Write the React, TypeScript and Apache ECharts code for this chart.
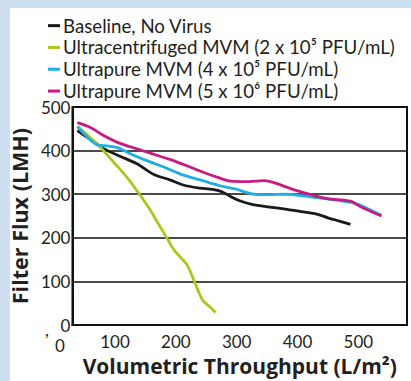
import React, { useEffect, useRef } from "react";
import * as echarts from "echarts";

const seriesNames = [
  "Baseline, No Virus",
  "Ultracentrifuged MVM (2 x 10⁵ PFU/mL)",
  "Ultrapure MVM (4 x 10⁵ PFU/mL)",
  "Ultrapure MVM (5 x 10⁶ PFU/mL)",
];
const seriesColors = ["#1a1a1a", "#a8c81c", "#1eaee3", "#c81a80"];

const baseline: [number, number][] = [
  [38, 446], [60, 425], [82, 404], [110, 386], [136, 370], [163, 346], [190, 333],
  [215, 320], [240, 314], [260, 311], [275, 306], [290, 295], [305, 285], [325, 277],
  [352, 271], [380, 266], [406, 260], [433, 254], [450, 246], [470, 238], [487, 231],
];
const ultracentrifuged: [number, number][] = [
  [39, 455], [55, 435], [71, 415], [82, 398], [100, 370], [120, 338], [136, 308],
  [155, 270], [170, 235], [185, 200], [198, 170], [210, 152], [220, 134], [231, 98],
  [244, 57], [255, 43], [265, 29],
];
const ultrapure4: [number, number][] = [
  [38, 455], [58, 426], [71, 413], [87, 411], [104, 407], [125, 393], [152, 377],
  [179, 363], [210, 345], [244, 331], [271, 320], [298, 312], [325, 301], [352, 299],
  [380, 300], [406, 297], [433, 292], [471, 285], [492, 280], [514, 268], [538, 252],
];
const ultrapure5: [number, number][] = [
  [38, 464], [61, 452], [82, 434], [104, 419], [136, 404], [163, 392], [190, 380],
  [217, 366], [244, 351], [270, 338], [290, 330], [320, 329], [345, 331], [360, 327],
  [395, 310], [422, 299], [449, 290], [487, 284], [503, 272], [538, 250],
];
const allData = [baseline, ultracentrifuged, ultrapure4, ultrapure5];

const xTickValues = [100, 200, 300, 400, 500];
const xMin = 30;
const xMax = 580;
const yMin = 0;
const yMax = 500;
const yInterval = 100;

const FONT = "Lato, 'Open Sans', sans-serif";
const BOLD_FONT = "'Open Sans', Lato, sans-serif";
const TEXT = "#231f20";

export default function App() {
  const ref = useRef<HTMLDivElement>(null);
  useEffect(() => {
    document.body.style.margin = "0";
    if (!ref.current) return;
    const chart = echarts.init(ref.current, undefined, { renderer: "svg" });
    chart.setOption({
      animation: false,
      textStyle: { fontFamily: FONT },
      legend: {
        orient: "vertical",
        left: 48,
        top: 15,
        padding: 0,
        icon: "rect",
        itemWidth: 12,
        itemHeight: 3,
        itemGap: 0.5,
        data: seriesNames,
        textStyle: { fontFamily: FONT, fontSize: 18.7, lineHeight: 21.3, color: TEXT, padding: [0, 0, 0, -2] },
      },
      grid: {
        left: 68,
        right: 4,
        top: 107,
        bottom: 52,
        show: true,
        borderColor: "#111",
        borderWidth: 2,
        backgroundColor: "transparent",
      },
      xAxis: {
        type: "value",
        min: xMin,
        max: xMax,
        name: "Volumetric Throughput (L/m²)",
        nameLocation: "middle",
        nameGap: 27,
        nameTextStyle: { fontFamily: BOLD_FONT, fontWeight: "bold", fontSize: 21, color: TEXT },
        axisLine: { show: true, lineStyle: { color: "#111", width: 2 } },
        axisTick: { show: false },
        splitLine: { show: false },
        axisLabel: {
          customValues: xTickValues,
          fontSize: 17,
          color: TEXT,
          margin: 8,
        },
      },
      yAxis: {
        type: "value",
        min: yMin,
        max: yMax,
        interval: yInterval,
        name: "Filter Flux (LMH)",
        nameLocation: "middle",
        nameGap: 36,
        nameTextStyle: { fontFamily: BOLD_FONT, fontWeight: "bold", fontSize: 21.5, color: TEXT },
        axisLine: { show: true, lineStyle: { color: "#111", width: 2 } },
        axisTick: { show: false },
        splitLine: { show: true, lineStyle: { color: "#111", width: 1.5 } },
        axisLabel: { fontSize: 17, color: TEXT, margin: 2 },
      },
      graphic: [
        { type: "text", left: 55, top: 337, style: { text: "0", font: `17px ${FONT}`, fill: TEXT } },
        { type: "text", left: 45, top: 321, style: { text: ",", font: `17px ${FONT}`, fill: TEXT } },
      ],
      series: allData.map((d, i) => ({
        name: seriesNames[i],
        type: "line",
        data: d,
        showSymbol: false,
        symbol: "none",
        smooth: 0.3,
        lineStyle: { color: seriesColors[i], width: 2.8 },
        itemStyle: { color: seriesColors[i] },
      })),
    });
    return () => chart.dispose();
  }, []);
  return (
    <div style={{ position: "relative", width: 411, height: 381, background: "#cddff1", overflow: "hidden" }}>
      <div style={{ position: "absolute", left: 10, top: 8, right: 0, bottom: 0, background: "#ffffff" }} />
      <div ref={ref} style={{ position: "absolute", left: 0, top: 0, width: 411, height: 381 }} />
    </div>
  );
}
